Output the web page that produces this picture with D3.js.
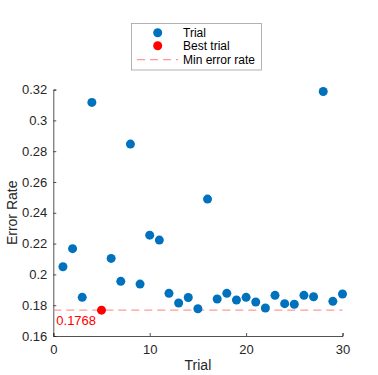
<!DOCTYPE html>
<html><head><meta charset="utf-8">
<script src="https://cdn.jsdelivr.net/npm/d3@7"></script>
<style>body{margin:0;background:#fff}svg{display:block;font-family:Arial,"Liberation Sans",Helvetica,sans-serif}</style>
</head><body>
<script>
const trials = [1,2,3,4,5,6,7,8,9,10,11,12,13,14,15,16,17,18,19,20,21,22,23,24,25,26,27,28,29,30];
const errorRates = [0.205,0.2167,0.1851,0.3117,0.1768,0.2104,0.1955,0.2846,0.1937,0.2255,0.2223,0.1877,0.1814,0.185,0.1777,0.2489,0.184,0.1877,0.1834,0.1851,0.1821,0.1782,0.1864,0.181,0.1806,0.1864,0.1855,0.3188,0.1825,0.1873];
const bestTrial = 5;
const minError = 0.1768;
const xTicks = [0,10,20,30];
const yTicks = [0.16,0.18,0.2,0.22,0.24,0.26,0.28,0.3,0.32];
const legendLabels = ["Trial","Best trial","Min error rate"];

const W=378,H=375;
const svg=d3.select("body").append("svg").attr("width",W).attr("height",H);
const x=d3.scaleLinear().domain([0,30]).range([53.3,342.5]);
const y=d3.scaleLinear().domain([0.16,0.32]).range([336,89.6]);
const axisColor="#262626";

const xa=svg.append("g").attr("transform","translate(0,336)")
  .call(d3.axisBottom(x).tickValues(xTicks).tickSize(-3).tickPadding(6).tickFormat(d3.format("d")));
const ya=svg.append("g").attr("transform","translate(53.3,0)")
  .call(d3.axisLeft(y).tickValues(yTicks).tickSize(-3).tickPadding(6).tickFormat(d=>String(+d.toFixed(2))));
[xa,ya].forEach(g=>{
  g.select(".domain").attr("stroke",axisColor).attr("stroke-width",0.8);
  g.selectAll(".tick line").attr("stroke",axisColor).attr("stroke-width",0.8);
  g.selectAll("text").attr("fill",axisColor).style("font-size","13px").style("font-family","Arial, 'Liberation Sans', sans-serif");
});
xa.selectAll("text").attr("dy","0.9em");

// min line
svg.append("line").attr("x1",x(0)).attr("x2",x(30)).attr("y1",y(minError)).attr("y2",y(minError))
  .attr("stroke","#ff8080").attr("stroke-opacity",0.8).attr("stroke-width",1.2).attr("stroke-dasharray","8,5");

// points
svg.append("g").selectAll("circle").data(trials.map((t,i)=>({t,v:errorRates[i]})).filter(d=>d.t!==bestTrial))
  .join("circle").attr("cx",d=>x(d.t)).attr("cy",d=>y(d.v)).attr("r",4.5).attr("fill","#0072BD");
svg.append("circle").attr("cx",x(bestTrial)).attr("cy",y(errorRates[bestTrial-1])).attr("r",4.5).attr("fill","#ff0000");

svg.append("text").attr("x",x(0)+3).attr("y",y(minError)+14.5).attr("fill","#ff0000")
  .style("font-size","13px").text(minError.toFixed(4));

// axis labels
svg.append("text").attr("x",(x(0)+x(30))/2).attr("y",370).attr("text-anchor","middle").attr("fill",axisColor)
  .style("font-size","14px").text("Trial");
svg.append("text").attr("transform",`translate(17,${(y(0.16)+y(0.32))/2}) rotate(-90)`).attr("text-anchor","middle")
  .attr("fill",axisColor).style("font-size","14px").text("Error Rate");

// legend
const lg=svg.append("g");
lg.append("rect").attr("x",131.5).attr("y",23.5).attr("width",130).attr("height",46.5).attr("fill","#fff").attr("stroke","#a0a0a0").attr("stroke-width",0.8);
const ly=[32.7,45.7,59.7];
lg.append("circle").attr("cx",157.7).attr("cy",ly[0]).attr("r",4.5).attr("fill","#0072BD");
lg.append("circle").attr("cx",157.7).attr("cy",ly[1]).attr("r",4.5).attr("fill","#ff0000");
lg.append("line").attr("x1",137).attr("x2",178).attr("y1",ly[2]).attr("y2",ly[2]).attr("stroke","#ff8080").attr("stroke-opacity",0.8).attr("stroke-width",1.2).attr("stroke-dasharray","8,5");
legendLabels.forEach((t,i)=>lg.append("text").attr("x",183).attr("y",ly[i]).attr("dy","0.35em").attr("fill","#000").style("font-size","12px").text(t));
</script>
</body></html>
